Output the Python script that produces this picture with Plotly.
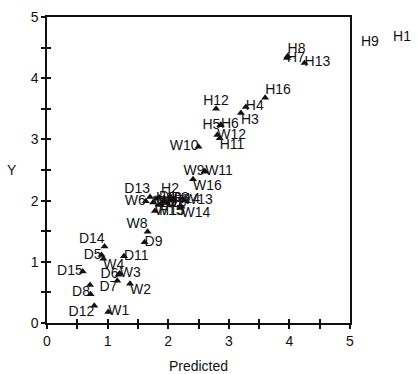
import plotly.graph_objects as go

# ---- data ----
names = ["H1", "H2", "H3", "H4", "H5", "H6", "H7", "H8", "H9", "H10", "H11", "H12", "H13", "H14", "H15", "H16",
         "W1", "W2", "W3", "W4", "W5", "W6", "W7", "W8", "W9", "W10", "W11", "W12", "W13", "W14", "W15", "W16",
         "D1", "D2", "D3", "D4", "D5", "D6", "D7", "D8", "D9", "D10", "D11", "D12", "D13", "D14", "D15"]
predicted = [5.71, 2.03, 3.20, 3.28, 2.86, 2.87, 3.96, 3.97, 5.18, 1.80, 2.85, 2.79, 4.25, 2.10, 1.85, 3.60,
             1.01, 1.37, 1.20, 0.93, 1.75, 1.63, 1.92, 1.66, 2.60, 2.50, 2.61, 2.81, 2.26, 2.22, 1.78, 2.41,
             1.85, 1.98, 2.05, 0.72, 0.90, 1.18, 1.16, 0.71, 1.61, 1.88, 1.27, 0.78, 1.70, 0.95, 0.59]
observed = [4.67, 2.07, 3.43, 3.53, 3.23, 3.24, 4.33, 4.36, 4.58, 2.03, 3.02, 3.50, 4.25, 2.02, 1.93, 3.68,
            0.18, 0.64, 0.81, 1.05, 1.97, 1.99, 1.99, 1.49, 2.48, 2.88, 2.47, 3.07, 2.00, 1.90, 1.83, 2.35,
            2.05, 1.96, 2.04, 0.47, 1.11, 0.79, 0.69, 0.62, 1.32, 1.95, 1.09, 0.28, 2.06, 1.25, 0.84]
label_pos = ["middle right", "top center", "bottom right", "middle right", "middle left", "middle right",
             "middle right", "top right", "middle right", "middle right", "bottom right", "top center",
             "middle right", "middle right", "bottom right", "top right",
             "middle right", "bottom right", "middle right", "bottom right", "middle right", "middle left",
             "middle right", "top left", "middle left", "middle left", "middle right", "middle right",
             "middle right", "bottom right", "middle right", "bottom right",
             "middle right", "middle right", "middle right", "middle right", "middle left", "middle left",
             "bottom left", "bottom left", "middle right", "middle right", "middle right", "bottom left",
             "top left", "top left", "middle left"]
label_shown = [n != "D4" for n in names]

x_ticks = [0, 1, 2, 3, 4, 5]
y_ticks = [0, 1, 2, 3, 4, 5]
X_MAX = 5
Y_MAX = 5

FONT = "Liberation Sans, Arial, sans-serif"
INK = "#111111"

W, H = 417, 374
L, R, T, B = 47, 0, 17, 51
PLOT_RIGHT = 350                      # right edge of the framed axes box
full_w = W - L - R
dom_end = (PLOT_RIGHT - L) / full_w   # fraction of the full width used by the axes box
wide_range = X_MAX / dom_end          # same scale, extended to the right edge of the page

inside = [(x <= X_MAX and y <= Y_MAX) for x, y in zip(predicted, observed)]

fig = go.Figure()
# triangles, clipped to the axes box
fig.add_trace(go.Scatter(
    x=predicted, y=observed, mode="markers",
    marker=dict(symbol="triangle-up", size=7, color=INK),
    cliponaxis=True, hoverinfo="skip", showlegend=False))
# labels of the points inside the axes box
fig.add_trace(go.Scatter(
    x=[x for x, i in zip(predicted, inside) if i],
    y=[y for y, i in zip(observed, inside) if i],
    mode="text",
    text=[n if s else "" for n, s, i in zip(names, label_shown, inside) if i],
    textposition=[p for p, i in zip(label_pos, inside) if i],
    textfont=dict(family=FONT, size=14, color=INK),
    cliponaxis=False, hoverinfo="skip", showlegend=False))
# labels of the points beyond the x range, on a wider hidden axis with the same scale
fig.add_trace(go.Scatter(
    x=[x for x, i in zip(predicted, inside) if not i],
    y=[y for y, i in zip(observed, inside) if not i],
    xaxis="x3", yaxis="y",
    mode="text",
    text=[n for n, i in zip(names, inside) if not i],
    textposition=[p for p, i in zip(label_pos, inside) if not i],
    textfont=dict(family=FONT, size=14, color=INK),
    cliponaxis=False, hoverinfo="skip", showlegend=False))
# invisible trace to activate the overlay axes (inside half of the crossing ticks)
fig.add_trace(go.Scatter(x=[None], y=[None], xaxis="x2", yaxis="y2",
                         mode="markers", showlegend=False, hoverinfo="skip"))

axis_common = dict(range=[0, 5], showgrid=False, zeroline=False, automargin=False,
                   showline=True, linecolor=INK, linewidth=1.5, mirror=True,
                   ticks="outside", ticklen=4, tickcolor=INK, tickwidth=1.5,
                   tickfont=dict(family=FONT, size=14, color=INK),
                   minor=dict(dtick=0.5, ticks="outside", ticklen=4, tickcolor=INK, tickwidth=1.5))

fig.update_layout(
    width=W, height=H,
    margin=dict(l=L, r=R, t=T, b=B),
    paper_bgcolor="white", plot_bgcolor="rgba(0,0,0,0)",
    xaxis=dict(axis_common, domain=[0, dom_end], tickvals=x_ticks, ticktext=[str(v) for v in x_ticks],
               title=dict(text="Predicted", font=dict(family=FONT, size=14, color=INK), standoff=14)),
    yaxis=dict(axis_common, tickvals=y_ticks, ticktext=[str(v) for v in y_ticks]),
    xaxis2=dict(range=[0, 5], overlaying="x", anchor="y2", side="bottom", showgrid=False,
                zeroline=False, showline=False, showticklabels=False, dtick=0.5, automargin=False,
                ticks="inside", ticklen=4, tickcolor=INK, tickwidth=1.5),
    yaxis2=dict(range=[0, 5], overlaying="y", anchor="x2", side="left", showgrid=False,
                zeroline=False, showline=False, showticklabels=False, dtick=0.5, automargin=False,
                ticks="inside", ticklen=4, tickcolor=INK, tickwidth=1.5),
    xaxis3=dict(range=[0, wide_range], domain=[0, 1], anchor="y", visible=False,
                showgrid=False, zeroline=False, automargin=False),
)
# horizontal "Y" axis title, as in the reference
fig.add_annotation(text="Y", xref="paper", yref="paper", x=(12 - L) / full_w, y=0.5,
                   xanchor="center", yanchor="middle", showarrow=False,
                   font=dict(family=FONT, size=14, color=INK))
fig.write_html("out.html", config={"displayModeBar": False},
               post_script="document.body.style.margin='0px';")
